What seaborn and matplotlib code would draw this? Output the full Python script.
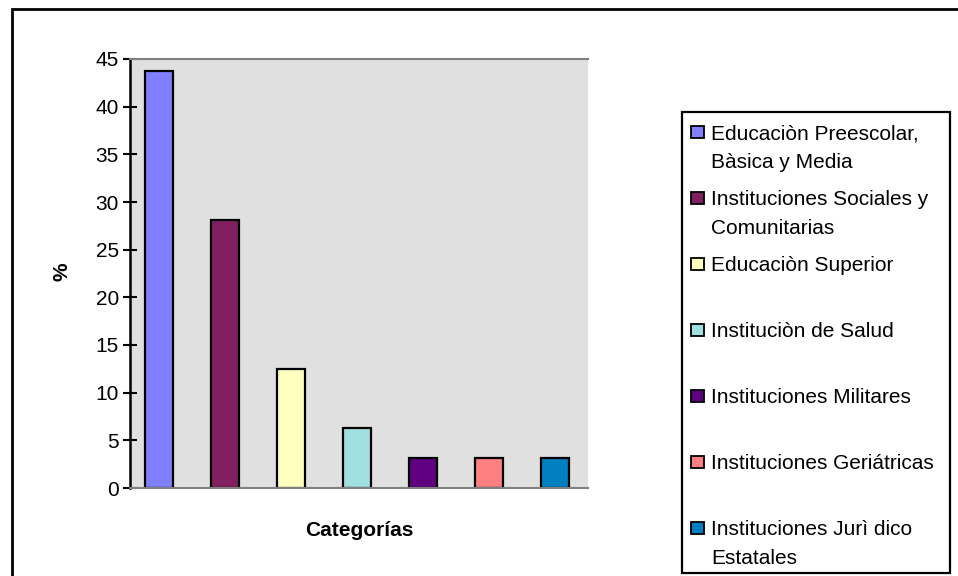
import matplotlib
matplotlib.use("Agg")
import matplotlib.pyplot as plt
import seaborn as sns
import pandas as pd
from matplotlib.patches import Rectangle

# Data
categorias = [
    "Educaciòn Preescolar,\nBàsica y Media",
    "Instituciones Sociales y\nComunitarias",
    "Educaciòn Superior",
    "Instituciòn de Salud",
    "Instituciones Militares",
    "Instituciones Geriátricas",
    "Instituciones Jurì dico\nEstatales",
]
porcentajes = [43.75, 28.125, 12.5, 6.25, 3.125, 3.125, 3.125]
colores = ["#8080FF", "#802060", "#FFFFC0", "#A0E0E0", "#600080", "#FF8080", "#0080C0"]
yticks = [0, 5, 10, 15, 20, 25, 30, 35, 40, 45]

sns.set_style("white")
plt.rcParams["font.family"] = ["Liberation Sans", "DejaVu Sans"]
plt.rcParams["text.color"] = "black"
plt.rcParams["axes.labelcolor"] = "black"
plt.rcParams["ytick.color"] = "black"

W, H = 958, 576
FS = 15

df = pd.DataFrame({"Categoria": categorias, "Porcentaje": porcentajes})

fig = plt.figure(figsize=(W / 100, H / 100), dpi=100)
ax = fig.add_axes([130 / W, 1 - 488 / H, (588 - 130) / W, (488 - 59) / H])

sns.barplot(data=df, x="Categoria", y="Porcentaje", hue="Categoria",
            palette=colores, saturation=1, width=0.42, edgecolor="black",
            linewidth=1.6, dodge=False, legend=False, ax=ax)

ax.set_facecolor("#E0E0E0")
ax.set_ylim(0, 45)
ax.set_xlim(-0.44, len(categorias) - 0.5)
ax.set_yticks(yticks)
ax.set_xticks([])
ax.tick_params(axis="y", direction="inout", length=10, width=1.5,
               labelsize=FS, pad=3, left=True, colors="black")
for s in ["top", "bottom"]:
    ax.spines[s].set_color("#808080")
    ax.spines[s].set_linewidth(1.5)
ax.spines["right"].set_visible(False)
ax.spines["left"].set_color("black")
ax.spines["left"].set_linewidth(1.8)

ax.set_ylabel("%", fontweight="bold", fontsize=FS)
ax.set_xlabel("Categorías", fontweight="bold", fontsize=FS)
ax.yaxis.set_label_coords((62 - 130) / (588 - 130), (488 - 272) / (488 - 59))
ax.xaxis.set_label_coords(0.5, -(530 - 488) / (488 - 59))
ax.xaxis.label.set_va("center")
ax.yaxis.label.set_va("center")

# Legend box in the Excel style: fixed step between entries
fig.patches.append(Rectangle((682 / W, 1 - 573 / H), (950 - 682) / W, (573 - 112) / H,
                             transform=fig.transFigure, facecolor="white",
                             edgecolor="black", linewidth=1.6, zorder=1))
step, line_h = 66, 28.5
for i, (lab, col) in enumerate(zip(categorias, colores)):
    yc = 132 + i * step
    fig.patches.append(Rectangle((691 / W, 1 - (yc + 6) / H), 13 / W, 12 / H,
                                 transform=fig.transFigure, facecolor=col,
                                 edgecolor="black", linewidth=1.3, zorder=2))
    for j, line in enumerate(lab.split("\n")):
        fig.text(711 / W, 1 - (yc + 7 + j * line_h) / H, line, fontsize=FS,
                 ha="left", va="baseline", zorder=3)

# outer chart border (right and bottom edges are cropped in the reference)
fig.patches.append(Rectangle((12 / W, -0.05), 1.0, 1 - 9 / H + 0.05,
                             transform=fig.transFigure, fill=False,
                             edgecolor="black", linewidth=2, zorder=4))

fig.savefig("out.png", dpi=100)
